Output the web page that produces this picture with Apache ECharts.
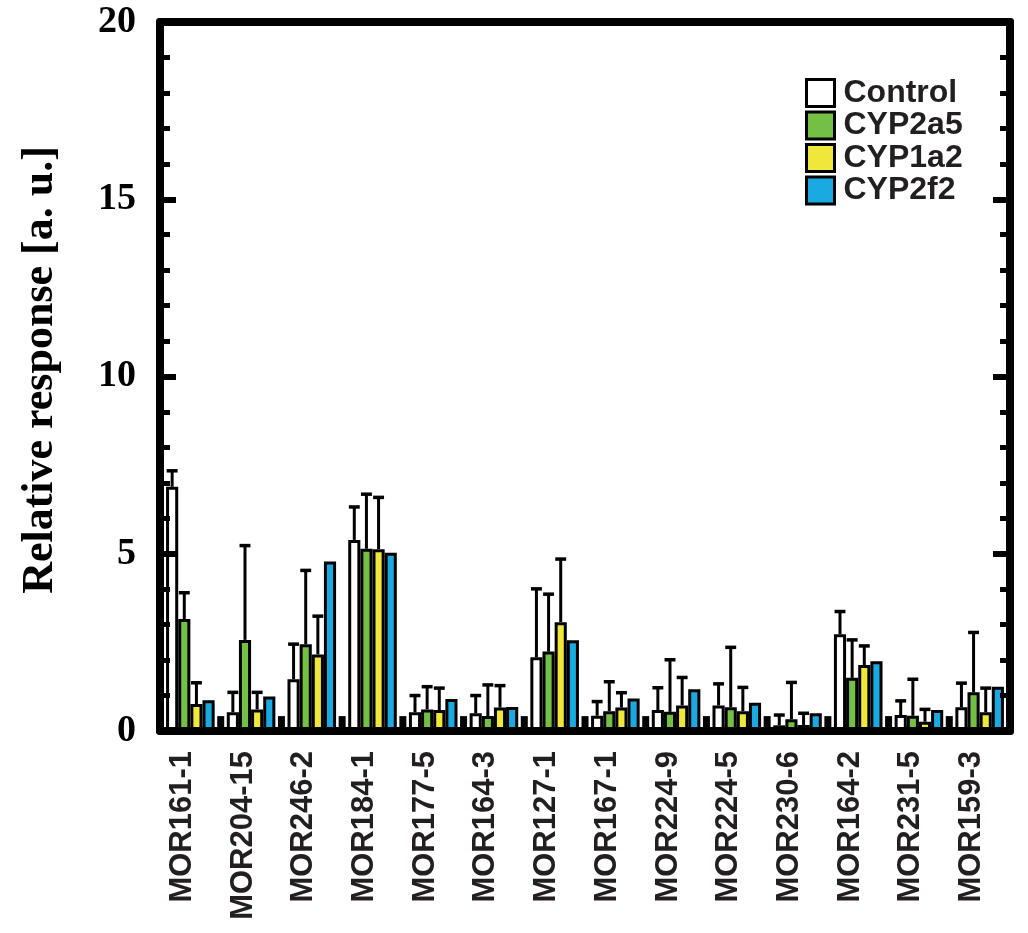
<!DOCTYPE html>
<html>
<head>
<meta charset="utf-8">
<script src="https://cdn.jsdelivr.net/npm/echarts@6/dist/echarts.min.js"></script>
<style>
html,body{margin:0;padding:0;background:#fff;}
#chart{width:1028px;height:933px;}
</style>
</head>
<body>
<div id="chart"></div>
<script>
// ---- data ----
const categories = ['MOR161-1','MOR204-15','MOR246-2','MOR184-1','MOR177-5','MOR164-3','MOR127-1','MOR167-1','MOR224-9','MOR224-5','MOR230-6','MOR164-2','MOR231-5','MOR159-3'];
const seriesNames = ['Control','CYP2a5','CYP1a2','CYP2f2'];
const control  = [6.89, 0.53, 1.46, 5.39, 0.53, 0.50, 2.08, 0.43, 0.59, 0.72, 0.16, 2.73, 0.45, 0.67];
const cyp2a5   = [3.16, 2.57, 2.45, 5.14, 0.61, 0.42, 2.24, 0.56, 0.54, 0.67, 0.33, 1.50, 0.43, 1.09];
const cyp1a2   = [0.76, 0.61, 2.16, 5.13, 0.59, 0.66, 3.07, 0.66, 0.72, 0.56, 0.17, 1.86, 0.26, 0.53];
const cyp2f2   = [0.87, 0.97, 4.78, 5.03, 0.90, 0.68, 2.56, 0.92, 1.18, 0.80, 0.50, 1.97, 0.59, 1.25];
const controlErr = [0.45, 0.56, 0.99, 0.93, 0.47, 0.50, 1.93, 0.40, 0.63, 0.61, 0.29, 0.64, 0.40, 0.68];
const cyp2a5Err  = [0.74, 2.66, 2.08, 1.54, 0.64, 0.88, 1.62, 0.83, 1.47, 1.69, 1.04, 1.07, 1.03, 1.69];
const cyp1a2Err  = [0.60, 0.48, 1.08, 1.46, 0.62, 0.62, 1.78, 0.42, 0.79, 0.67, 0.33, 0.54, 0.35, 0.68];
const cyp2f2Err  = [0, 0, 0, 0, 0, 0, 0, 0, 0, 0, 0, 0, 0, 0];
// small black marks standing at the group boundaries (15 boundaries)
const boundaryNames = ['b0','b1','b2','b3','b4','b5','b6','b7','b8','b9','b10','b11','b12','b13','b14'];
const boundaryMarks = [0.42,0.42,0.42,0.42,0.42,0.42,0.42,0.42,0.42,0.42,0.42,0.42,0.42,0.42,0.42];
const yMin = 0, yMax = 20, yInterval = 5;

const colors = ['#ffffff','#74bf45','#efe83b','#1ba9e1'];
const values = [control, cyp2a5, cyp1a2, cyp2f2];
const errs = [controlErr, cyp2a5Err, cyp1a2Err, cyp2f2Err];

const chart = echarts.init(document.getElementById('chart'));

function errRender(idx){
  return function(params, api){
    const x = api.value(0), v = api.value(1), e = api.value(2);
    if (!e) return null;
    const base = api.coord([x, v]);
    const top = api.coord([x, v + e]);
    const band = api.size([1, 0])[0];
    const slot = band * 0.8 / 4;
    const cx = base[0] + (idx - 1.5) * slot;
    const half = slot * 0.45;
    return {
      type: 'group',
      children: [
        {type:'line', shape:{x1:cx, y1:base[1], x2:cx, y2:top[1]}, style:{stroke:'#000', lineWidth:3}},
        {type:'line', shape:{x1:cx-half, y1:top[1], x2:cx+half, y2:top[1]}, style:{stroke:'#000', lineWidth:3.5}}
      ]
    };
  };
}

const series = [];
seriesNames.forEach((name, i) => {
  series.push({
    name: name,
    type: 'bar',
    xAxisIndex: 0,
    yAxisIndex: 0,
    data: values[i],
    barGap: '0%',
    barCategoryGap: '20%',
    itemStyle: {color: colors[i], borderColor: '#000', borderWidth: 3},
    emphasis: {disabled: true},
    z: 3
  });
});
seriesNames.forEach((name, i) => {
  series.push({
    name: name + '-err',
    type: 'custom',
    xAxisIndex: 0,
    yAxisIndex: 0,
    data: categories.map((c, k) => [k, values[i][k], errs[i][k]]),
    renderItem: errRender(i),
    encode: {x: 0, y: 1},
    z: 2,
    silent: true
  });
});
series.push({
  name: 'marks',
  type: 'bar',
  xAxisIndex: 1,
  yAxisIndex: 0,
  data: boundaryMarks,
  barWidth: 7,
  itemStyle: {color: '#000'},
  z: 2,
  silent: true
});

const axisLineStyle = {color: '#000', width: 8};

chart.setOption({
  animation: false,
  backgroundColor: '#fff',
  grid: {left: 160, right: 18, top: 22, bottom: 202, containLabel: false},
  legend: {
    data: seriesNames,
    orient: 'vertical',
    left: 800,
    top: 72,
    icon: 'rect',
    itemWidth: 28,
    itemHeight: 27,
    itemGap: 0.5,
    itemStyle: {borderColor: '#000', borderWidth: 3},
    textStyle: {fontFamily: 'Liberation Sans', fontWeight: 'bold', fontSize: 32, color: '#231f20', lineHeight: 27, padding: [0,0,0,4]},
    selectedMode: false
  },
  xAxis: [
    {
      type: 'category',
      data: categories,
      position: 'bottom',
      boundaryGap: true,
      axisLine: {show: true, onZero: false, lineStyle: axisLineStyle},
      axisTick: {show: false},
      axisLabel: {
        rotate: 90, margin: 20, interval: 0,
        fontFamily: 'Liberation Sans', fontWeight: 'bold', fontSize: 31, color: '#231f20',
        verticalAlign: 'bottom', lineHeight: 16
      },
      splitLine: {show: false},
      z: 10
    },
    {
      type: 'category',
      data: boundaryNames,
      position: 'top',
      boundaryGap: false,
      axisLine: {show: true, onZero: false, lineStyle: axisLineStyle},
      axisTick: {show: false},
      axisLabel: {show: false},
      splitLine: {show: false},
      z: 10
    }
  ],
  yAxis: [
    {
      type: 'value',
      position: 'left',
      min: yMin, max: yMax, interval: yInterval,
      axisLine: {show: true, lineStyle: axisLineStyle},
      axisTick: {show: true, inside: true, length: 16, lineStyle: {color: '#000', width: 6}},
      minorTick: {show: true, splitNumber: 5, length: 10, lineStyle: {color: '#000', width: 5}},
      axisLabel: {margin: 24, fontFamily: 'Liberation Serif', fontWeight: 'bold', fontSize: 38, color: '#000'},
      splitLine: {show: false},
      z: 10
    },
    {
      type: 'value',
      position: 'right',
      min: yMin, max: yMax, interval: yInterval,
      axisLine: {show: true, lineStyle: axisLineStyle},
      axisTick: {show: true, inside: true, length: 17, lineStyle: {color: '#000', width: 6}},
      minorTick: {show: true, splitNumber: 5, length: 10, lineStyle: {color: '#000', width: 5}},
      axisLabel: {show: false},
      splitLine: {show: false},
      z: 10
    }
  ],
  graphic: [
    {
      type: 'text',
      x: 41, y: 370,
      rotation: Math.PI / 2,
      style: {
        text: 'Relative response [a. u.]',
        font: 'bold 44px "Liberation Serif"',
        fill: '#000',
        align: 'center',
        verticalAlign: 'middle'
      }
    }
  ],
  series: series
});
</script>
</body>
</html>
